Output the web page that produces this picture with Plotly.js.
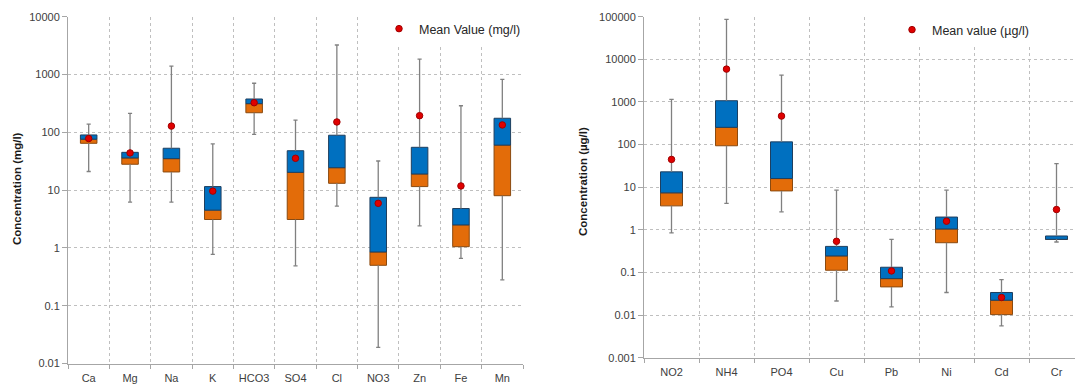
<!DOCTYPE html>
<html>
<head>
<meta charset="utf-8">
<script src="https://cdn.plot.ly/plotly-3.0.1.min.js"></script>
<style>html,body{margin:0;padding:0;background:#fff;}#chart{width:1075px;height:385px;}</style>
</head>
<body>
<div id="chart"></div>
<script>
// ---- Left chart data (mg/l) ----
var catsL = ['Ca','Mg','Na','K','HCO3','SO4','Cl','NO3','Zn','Fe','Mn'];
var lowL  = [21, 6.2, 6.2, 0.77, 92, 0.49, 5.3, 0.019, 2.4, 0.66, 0.28];
var q1L   = [64.5, 28, 20.6, 3.1, 218, 3.1, 13.1, 0.5, 11.5, 1.05, 8.0];
var medL  = [76, 36, 35, 4.5, 313, 20.3, 24.4, 0.85, 19, 2.5, 60];
var q3L   = [90, 45, 53, 11.5, 377, 48, 89, 7.5, 55, 4.8, 175];
var highL = [139, 213, 1400, 63, 705, 163, 3240, 31.9, 1850, 288, 826];
var meanL = [78, 44, 128, 9.6, 325, 35.5, 151, 5.9, 194, 11.8, 134];

// ---- Right chart data (µg/l) ----
var catsR = ['NO2','NH4','PO4','Cu','Pb','Ni','Cd','Cr'];
var lowR  = [0.85, 4.2, 2.65, 0.0215, 0.0156, 0.034, 0.0056, 0.52];
var q1R   = [3.66, 94, 8.2, 0.113, 0.046, 0.5, 0.0103, 0.6];
var medR  = [7.4, 254, 16, 0.245, 0.072, 1.05, 0.0224, 0.6];
var q3R   = [23, 1070, 116, 0.41, 0.133, 2.0, 0.034, 0.72];
var highR = [1150, 87000, 4280, 8.55, 0.6, 8.55, 0.0685, 36];
var meanR = [45, 5900, 467, 0.54, 0.109, 1.6, 0.026, 3.0];

var ytickL = [0.01, 0.1, 1, 10, 100, 1000, 10000];
var ytextL = ['0.01','0.1','1','10','100','1000','10000'];
var ytickR = [0.001, 0.01, 0.1, 1, 10, 100, 1000, 10000, 100000];
var ytextR = ['0.001','0.01','0.1','1','10','100','1000','10000','100000'];

var BLUE = '#0070C0', ORANGE = '#E36C09';

function idx(a){ return a.map(function(_, i){ return i; }); }
function diff(a, b){ return a.map(function(v, i){ return v - b[i]; }); }

function makeTraces(cats, low, q1, med, q3, high, mean, xa, ya, legendName, legendId, cap){
  var xs = idx(cats);
  var wx = [], wy = [];
  xs.forEach(function(i){
    wx.push(i, i, null, i, i, null, i - cap, i + cap, null, i - cap, i + cap, null);
    wy.push(q3[i], high[i], null, low[i], q1[i], null, high[i], high[i], null, low[i], low[i], null);
  });
  return [
    {type:'bar', x:xs, y:diff(med, q1), base:q1, width:0.4, xaxis:xa, yaxis:ya,
     marker:{color:ORANGE, line:{color:'#8A4A10', width:1}}, showlegend:false, hoverinfo:'skip'},
    {type:'bar', x:xs, y:diff(q3, med), base:med, width:0.4, xaxis:xa, yaxis:ya,
     marker:{color:BLUE, line:{color:'#1F3F5F', width:1}}, showlegend:false, hoverinfo:'skip'},
    {type:'scatter', mode:'lines', x:wx, y:wy, xaxis:xa, yaxis:ya,
     line:{color:'#808080', width:1.3}, showlegend:false, hoverinfo:'skip', connectgaps:false},
    {type:'scatter', mode:'markers', x:xs, y:mean, xaxis:xa, yaxis:ya, name:legendName, legend:legendId,
     marker:{color:'#E00000', size:6.5, line:{color:'#A00000', width:1}}}
  ];
}

var data = [].concat(
  makeTraces(catsL, lowL, q1L, medL, q3L, highL, meanL, 'x', 'y', 'Mean Value (mg/l)', 'legend', 0.05),
  makeTraces(catsR, lowR, q1R, medR, q3R, highR, meanR, 'x2', 'y2', 'Mean value (µg/l)', 'legend2', 0.04)
);

var FONT = {family:'"Liberation Sans", Arial, sans-serif', size:11, color:'#404040'};
var GRID = '#BFBFBF';

function xaxis(cats, domain, range, anchor){
  return {domain:domain, range:range, anchor:anchor, tickmode:'array', tickvals:idx(cats), ticktext:cats,
    ticks:'', showgrid:false, zeroline:false, showline:true, linecolor:'#A6A6A6', linewidth:1,
    ticklabelstandoff:4, tickfont:FONT, fixedrange:true,
    minor:{tick0:-0.5, dtick:1, showgrid:true, gridcolor:GRID, griddash:'dot', gridwidth:1,
           ticks:'outside', ticklen:4, tickcolor:'#A6A6A6'}};
}
function yaxis(vals, text, domain, range, anchor){
  return {type:'log', domain:domain, range:range, anchor:anchor, tickmode:'array', tickvals:vals, ticktext:text,
    ticks:'outside', ticklen:5, tickcolor:'#A6A6A6', showgrid:true, gridcolor:GRID, griddash:'dot',
    zeroline:false, showline:true, linecolor:'#A6A6A6', linewidth:1, tickfont:FONT, fixedrange:true};
}

var LEGFONT = {family:FONT.family, size:12.5, color:'#262626'};

var layout = {
  width:1075, height:385, margin:{l:0, r:0, t:0, b:0},
  paper_bgcolor:'#fff', plot_bgcolor:'#fff', font:FONT,
  barmode:'overlay', showlegend:true,
  xaxis: xaxis(catsL, [68/1075, 523/1075], [-0.5, 10.5], 'y'),
  yaxis: yaxis(ytickL, ytextL, [(385-363.5)/385, (385-16.7)/385], [-2, 4], 'x'),
  xaxis2: xaxis(catsR, [644/1075, 1], [-0.5, -0.5 + 431/55], 'y2'),
  yaxis2: yaxis(ytickR, ytextR, [(385-357.8)/385, (385-16.7)/385], [-3, 5], 'x2'),
  legend:{x:379/1075, y:(385-14)/385, xanchor:'left', yanchor:'top', bgcolor:'#fff',
    font:LEGFONT, itemwidth:30, tracegroupgap:0},
  legend2:{x:892/1075, y:(385-15)/385, xanchor:'left', yanchor:'top', bgcolor:'#fff',
    font:LEGFONT, itemwidth:30, tracegroupgap:0},
  annotations:[
    {text:'<b>Concentration (mg/l)</b>', textangle:-90, xref:'paper', yref:'paper',
     x:17/1075, y:(385-189)/385, xanchor:'center', yanchor:'middle', showarrow:false,
     font:{family:FONT.family, size:11.5, color:'#1a1a1a'}},
    {text:'<b>Concentration (µg/l)</b>', textangle:-90, xref:'paper', yref:'paper',
     x:583/1075, y:(385-182)/385, xanchor:'center', yanchor:'middle', showarrow:false,
     font:{family:FONT.family, size:11.5, color:'#1a1a1a'}}
  ]
};

Plotly.newPlot('chart', data, layout, {displayModeBar:false, staticPlot:true});
</script>
</body>
</html>
